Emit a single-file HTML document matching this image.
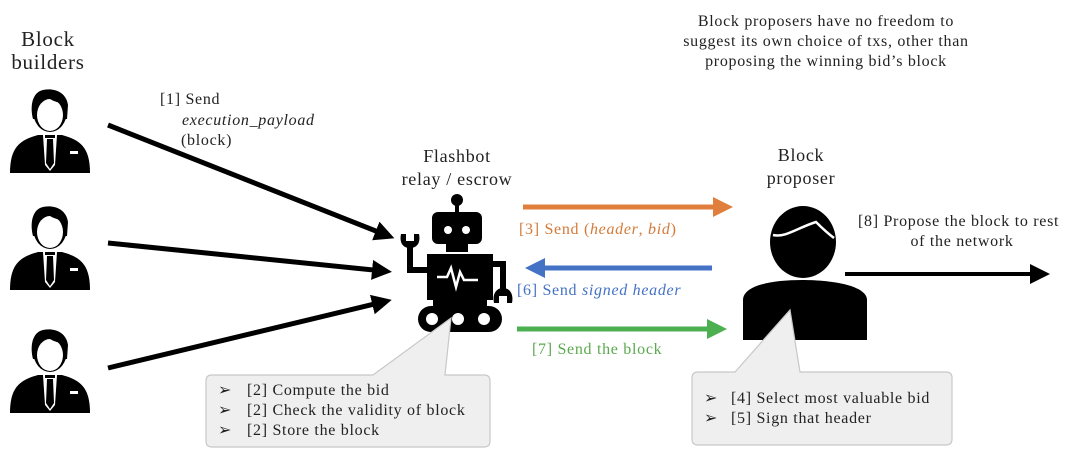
<!DOCTYPE html>
<html><head><meta charset="utf-8"><style>
html,body{margin:0;padding:0;background:#fff;}
svg{display:block;font-family:"Liberation Serif",serif;}
text{letter-spacing:0.7px;}
</style></head><body>
<svg width="1080" height="459" viewBox="0 0 1080 459" xmlns="http://www.w3.org/2000/svg">
<defs>
<marker id="ak" markerWidth="4" markerHeight="4" refX="2.2" refY="2" orient="auto" markerUnits="strokeWidth"><path d="M0,0 L4,2 L0,4 z" fill="#000"/></marker>
<marker id="ak2" markerWidth="5" markerHeight="5" refX="2.5" refY="2.5" orient="auto" markerUnits="strokeWidth"><path d="M0,0 L5,2.5 L0,5 z" fill="#000"/></marker>
<marker id="ao" markerWidth="4" markerHeight="4" refX="2.2" refY="2" orient="auto" markerUnits="strokeWidth"><path d="M0,0 L4,2 L0,4 z" fill="#E07F3D"/></marker>
<marker id="ab" markerWidth="4" markerHeight="4" refX="2.2" refY="2" orient="auto" markerUnits="strokeWidth"><path d="M0,0 L4,2 L0,4 z" fill="#4472C4"/></marker>
<marker id="ag" markerWidth="4" markerHeight="4" refX="2.2" refY="2" orient="auto" markerUnits="strokeWidth"><path d="M0,0 L4,2 L0,4 z" fill="#4CAF50"/></marker>
<g id="bp">
<path d="M-40,88 C-40,62 -30,55 -12,50 L12,50 C30,55 40,62 40,88 Z" fill="#000"/>
<path d="M-7,50 L7,50 L5,80 L0,86 L-5,80 Z" fill="#fff"/>
<path d="M-3,54 L3,54 L4,78 L0,84 L-4,78 Z" fill="#000"/>
<rect x="-5" y="50" width="10" height="3" fill="#000"/>
<rect x="20" y="66" width="8" height="3" fill="#fff"/>
<ellipse cx="0" cy="26" rx="17" ry="21" fill="#000"/>
<ellipse cx="0" cy="30" rx="13" ry="16" fill="#fff"/>
<path d="M-13,24 C-12,12 -4,10 0,14 C6,18 12,16 13,24 L13,34 L17,34 L18,20 C16,5 0,2 -10,6 C-18,10 -20,22 -17,34 L-13,34 Z" fill="#000"/>
</g>
</defs>

<text x="48" y="46" font-size="21" text-anchor="middle" fill="#222">Block</text>
<text x="48" y="69" font-size="21" text-anchor="middle" fill="#222">builders</text>

<use href="#bp" x="50" y="85"/>
<use href="#bp" x="50" y="202"/>
<use href="#bp" x="50" y="325"/>

<line x1="108" y1="125" x2="386" y2="235" stroke="#000" stroke-width="5" marker-end="url(#ak)"/>
<line x1="108" y1="243" x2="383" y2="271" stroke="#000" stroke-width="5" marker-end="url(#ak)"/>
<line x1="108" y1="368" x2="383" y2="302" stroke="#000" stroke-width="5" marker-end="url(#ak)"/>

<text x="160" y="104" font-size="16" fill="#222">[1] Send</text>
<text x="182" y="125" font-size="16" font-style="italic" fill="#222">execution_payload</text>
<text x="181" y="145" font-size="16" fill="#222">(block)</text>

<text x="457" y="162" font-size="18" text-anchor="middle" fill="#222">Flashbot</text>
<text x="457" y="185" font-size="18" text-anchor="middle" fill="#222">relay / escrow</text>
<circle cx="457" cy="200" r="6" fill="#000"/>
<rect x="455" y="200" width="4" height="14" fill="#000"/>
<rect x="432" y="212" width="50" height="32" rx="6" fill="#000"/>
<circle cx="448" cy="230" r="4" fill="#fff"/><circle cx="466" cy="230" r="4" fill="#fff"/>
<rect x="446" y="244" width="22" height="8" fill="#000"/>
<rect x="427" y="254" width="66" height="46" fill="#000"/>
<polyline points="437,277 447,277 451,268 456,287 460,272 464,280 478,280" fill="none" stroke="#fff" stroke-width="2.5"/>
<path d="M427,270 L410,270 L410,245" fill="none" stroke="#000" stroke-width="6"/>
<path d="M401,234 C399,244 404,248 410,248 C416,248 421,244 419,234 L414,234 L414,241 L406,241 L406,234 Z" fill="#000"/>
<path d="M493,264 L503,264 L503,290" fill="none" stroke="#000" stroke-width="6"/>
<path d="M494,303 C492,293 497,288 503,288 C509,288 514,293 512,303 L507,303 L507,296 L499,296 L499,303 Z" fill="#000"/>
<rect x="433" y="300" width="54" height="6" fill="#000"/>
<rect x="418" y="306" width="84" height="26" rx="13" fill="#000"/>
<circle cx="432" cy="319" r="6" fill="#fff"/><circle cx="458" cy="319" r="6" fill="#fff"/><circle cx="484" cy="319" r="6" fill="#fff"/>

<line x1="523" y1="207" x2="724" y2="207" stroke="#E07F3D" stroke-width="5" marker-end="url(#ao)"/>
<text x="519" y="234" font-size="16" fill="#D47A3A">[3] Send (<tspan font-style="italic">header</tspan>, <tspan font-style="italic">bid</tspan>)</text>
<line x1="712" y1="268" x2="534" y2="268" stroke="#4472C4" stroke-width="5" marker-end="url(#ab)"/>
<text x="517" y="295" font-size="16" fill="#4472C4">[6] Send <tspan font-style="italic">signed header</tspan></text>
<line x1="517" y1="329" x2="718" y2="329" stroke="#4CAF50" stroke-width="5" marker-end="url(#ag)"/>
<text x="532" y="354" font-size="16" fill="#5BAA4F">[7] Send the block</text>

<text x="801" y="161" font-size="18" text-anchor="middle" fill="#222">Block</text>
<text x="801" y="184" font-size="18" text-anchor="middle" fill="#222">proposer</text>
<ellipse cx="803" cy="242" rx="33" ry="36" fill="#000"/>
<path d="M773,235 C785,238 797,228 816,222 C822,228 826,232 834,238" fill="none" stroke="#fff" stroke-width="2.5"/>
<path d="M743,340 L743,300 C743,286 770,280 802,280 C834,280 867,286 867,300 L867,340 Z" fill="#000"/>
<line x1="845" y1="274" x2="1040" y2="274" stroke="#000" stroke-width="4" marker-end="url(#ak2)"/>
<text x="858" y="226" font-size="16" fill="#222">[8] Propose the block to rest</text>
<text x="962" y="246" font-size="16" text-anchor="middle" fill="#222">of the network</text>

<text x="826" y="26" font-size="16" text-anchor="middle" fill="#222">Block proposers have no freedom to</text>
<text x="826" y="46" font-size="16" text-anchor="middle" fill="#222">suggest its own choice of txs, other than</text>
<text x="826" y="66" font-size="16" text-anchor="middle" fill="#222">proposing the winning bid’s block</text>

<path d="M212,375 L373,375 L451,318 L445,375 L484,375 Q490,375 490,381 L490,441 Q490,447 484,447 L212,447 Q206,447 206,441 L206,381 Q206,375 212,375 Z" fill="#efefef" stroke="#c8c8c8" stroke-width="1.2"/>
<g font-size="16" fill="#222">
<text x="218" y="395">➢</text><text x="247" y="395">[2] Compute the bid</text>
<text x="218" y="415">➢</text><text x="247" y="415">[2] Check the validity of block</text>
<text x="218" y="435">➢</text><text x="247" y="435">[2] Store the block</text>
</g>
<path d="M698,372 L735,372 L790,310 L800,372 L946,372 Q952,372 952,378 L952,439 Q952,445 946,445 L698,445 Q692,445 692,439 L692,378 Q692,372 698,372 Z" fill="#efefef" stroke="#c8c8c8" stroke-width="1.2"/>
<g font-size="16" fill="#222">
<text x="704" y="403">➢</text><text x="731" y="403">[4] Select most valuable bid</text>
<text x="704" y="423">➢</text><text x="731" y="423">[5] Sign that header</text>
</g>
</svg>
</body></html>
